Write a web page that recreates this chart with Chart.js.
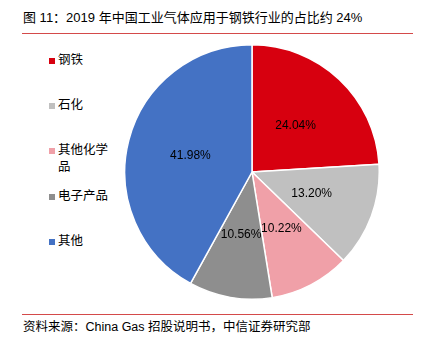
<!DOCTYPE html>
<html>
<head>
<meta charset="utf-8">
<script src="https://cdn.jsdelivr.net/npm/chart.js@4"></script>
<style>
  body { margin: 0; background: #fff; font-family: "Liberation Sans", "Noto Sans CJK SC", sans-serif; color: #000; }
  #wrap { position: relative; width: 430px; height: 344px; overflow: hidden; }
  #title { position: absolute; left: 23px; top: 7px; font-size: 13px; white-space: nowrap; }
  .rule { position: absolute; left: 22px; width: 391px; height: 1px; background: #d44a4a; }
  #source { position: absolute; left: 23px; top: 316px; font-size: 12.5px; white-space: nowrap; }
  #legend { position: absolute; left: 49px; top: 0; }
  .item { position: absolute; left: 0; display: flex; align-items: flex-start; font-size: 12.5px; line-height: 17px; }
  .box { width: 6px; height: 6px; margin-top: 6px; margin-right: 3px; flex: none; }
  .txt { width: 54px; }
  #pie { position: absolute; left: 124px; top: 44px; width: 256px; height: 256px; }
</style>
</head>
<body>
<div id="wrap">
  <div id="title">图 11：2019 年中国工业气体应用于钢铁行业的占比约 24%</div>
  <div class="rule" style="top:33px"></div>
  <div id="legend"></div>
  <div id="pie"><canvas id="chart"></canvas></div>
  <div class="rule" style="top:314px"></div>
  <div id="source">资料来源：China Gas 招股说明书，中信证券研究部</div>
</div>
<script>
const categories = ['钢铁', '石化', '其他化学品', '电子产品', '其他'];
const shares = [24.04, 13.20, 10.22, 10.56, 41.98];
const colors = ['#d7000f', '#c0c0c0', '#f0a0a8', '#8e8e8e', '#4472c4'];
const legendTops = [52, 97, 142, 188, 233];

// 图例
const legend = document.getElementById('legend');
categories.forEach((name, i) => {
    const item = document.createElement('div');
    item.className = 'item';
    item.style.top = legendTops[i] + 'px';
    item.innerHTML = `<span class="box" style="background:${colors[i]}"></span><span class="txt">${name}</span>`;
    legend.appendChild(item);
});

// 扇区内的百分比标签
const sliceLabels = {
    id: 'sliceLabels',
    afterDatasetsDraw(chart) {
        const ctx = chart.ctx;
        const meta = chart.getDatasetMeta(0);
        ctx.save();
        ctx.font = '12px "Liberation Sans", Arial, sans-serif';
        ctx.fillStyle = '#000';
        ctx.textAlign = 'center';
        ctx.textBaseline = 'middle';
        meta.data.forEach((arc, i) => {
            const p = arc.tooltipPosition();
            ctx.fillText(shares[i].toFixed(2) + '%', p.x, p.y);
        });
        ctx.restore();
    }
};

const ctx = document.getElementById('chart').getContext('2d');
new Chart(ctx, {
    type: 'pie',
    data: {
        labels: categories,
        datasets: [{
            data: shares,
            backgroundColor: colors,
            borderColor: '#fff',
            borderWidth: 1.5
        }]
    },
    options: {
        responsive: true,
        maintainAspectRatio: false,
        animation: false,
        layout: { padding: 0 },
        plugins: {
            legend: { display: false },
            tooltip: { enabled: false }
        }
    },
    plugins: [sliceLabels]
});
</script>
</body>
</html>
